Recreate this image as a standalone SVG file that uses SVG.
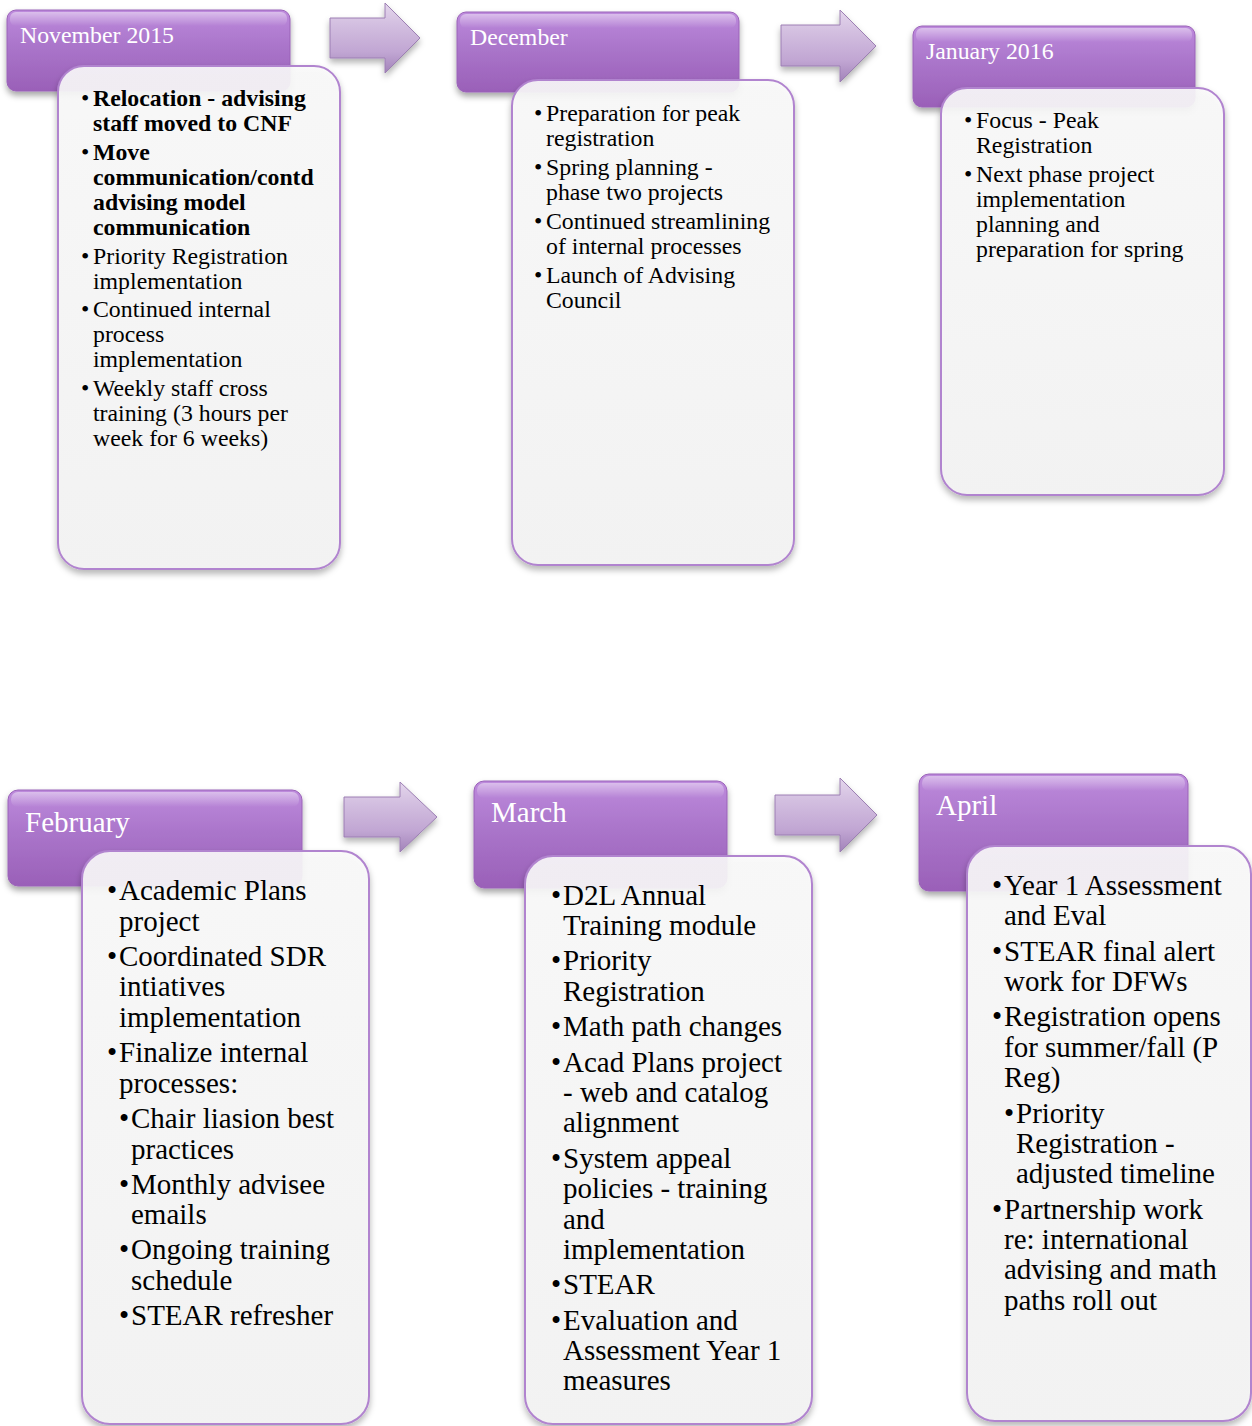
<svg xmlns="http://www.w3.org/2000/svg" width="1252" height="1426" viewBox="0 0 1252 1426">
<defs>
<linearGradient id="hg" x1="0" y1="0" x2="0" y2="1">
<stop offset="0" stop-color="#bd8adc"/>
<stop offset="0.45" stop-color="#aa75ca"/>
<stop offset="1" stop-color="#9a60b8"/>
</linearGradient>
<linearGradient id="hl" x1="0" y1="0" x2="0" y2="1">
<stop offset="0" stop-color="#ffffff" stop-opacity="0.45"/>
<stop offset="1" stop-color="#ffffff" stop-opacity="0"/>
</linearGradient>
<linearGradient id="bg" x1="0" y1="0" x2="0" y2="1">
<stop offset="0" stop-color="#fafafa"/>
<stop offset="1" stop-color="#f4f4f4"/>
</linearGradient>
<linearGradient id="ag" x1="0" y1="0" x2="0" y2="1">
<stop offset="0" stop-color="#e4d6ec"/>
<stop offset="0.3" stop-color="#d3bfe0"/>
<stop offset="0.7" stop-color="#c1a6d3"/>
<stop offset="1" stop-color="#a283b9"/>
</linearGradient>
<filter id="sh" x="-10%" y="-10%" width="120%" height="125%">
<feDropShadow dx="0" dy="4" stdDeviation="3" flood-color="#000" flood-opacity="0.35"/>
</filter>
<filter id="sh2" x="-10%" y="-10%" width="120%" height="125%">
<feDropShadow dx="0" dy="4" stdDeviation="3" flood-color="#000" flood-opacity="0.3"/>
</filter>
</defs>
<style>
.hd{fill:url(#hg);stroke:#9a62b8;stroke-width:1;filter:url(#sh)}
.hlt{fill:url(#hl)}
.bx{fill:url(#bg);fill-opacity:0.9;stroke:#b184cf;stroke-width:2;filter:url(#sh2)}
.ar{fill:url(#ag);stroke:#9c7fb3;stroke-width:1;filter:url(#sh2)}
.ht{font-family:'Liberation Serif','Times New Roman',serif;fill:#ffffff}
.t1{font-family:'Liberation Serif','Times New Roman',serif;font-size:23.8px;fill:#000}
.t2{font-family:'Liberation Serif','Times New Roman',serif;font-size:29px;fill:#000}
.b{font-weight:bold}
</style>

<g id="connectors">
<path class="ar" d="M330,18 H385 V3 L420,38 L385,73 V58 H330 Z"/>
<path class="ar" d="M781,25 H840 V10 L876,46 L840,82 V66 H781 Z"/>
<path class="ar" d="M344,797 H400 V782 L437,817 L400,852 V837 H344 Z"/>
<path class="ar" d="M775,795 H840 V778 L877,815 L840,852 V835 H775 Z"/>
</g>

<g id="nov">
<rect class="hd" x="7" y="10" width="283" height="81" rx="9"/>
<rect class="hlt" x="10" y="12" width="277" height="14" rx="6"/>
<text class="ht" x="20" y="43" font-size="23.8">November 2015</text>
<rect class="bx" x="58" y="66" width="282" height="503" rx="26"/>
<text class="t1">
<tspan x="81" y="106">•</tspan><tspan x="93" y="106" class="b">Relocation - advising</tspan>
<tspan x="93" y="131" class="b">staff moved to CNF</tspan>
<tspan x="81" y="160">•</tspan><tspan x="93" y="160" class="b">Move</tspan>
<tspan x="93" y="185" class="b">communication/contd</tspan>
<tspan x="93" y="210" class="b">advising model</tspan>
<tspan x="93" y="235" class="b">communication</tspan>
<tspan x="81" y="264">•</tspan><tspan x="93" y="264">Priority Registration</tspan>
<tspan x="93" y="289">implementation</tspan>
<tspan x="81" y="317">•</tspan><tspan x="93" y="317">Continued internal</tspan>
<tspan x="93" y="342">process</tspan>
<tspan x="93" y="367">implementation</tspan>
<tspan x="81" y="396">•</tspan><tspan x="93" y="396">Weekly staff cross</tspan>
<tspan x="93" y="421">training (3 hours per</tspan>
<tspan x="93" y="446">week for 6 weeks)</tspan>
</text>
</g>

<g id="dec">
<rect class="hd" x="457" y="12" width="282" height="80" rx="9"/>
<rect class="hlt" x="460" y="14" width="276" height="14" rx="6"/>
<text class="ht" x="470" y="45" font-size="23.8">December</text>
<rect class="bx" x="512" y="80" width="282" height="485" rx="26"/>
<text class="t1">
<tspan x="534" y="121">•</tspan><tspan x="546" y="121">Preparation for peak</tspan>
<tspan x="546" y="146">registration</tspan>
<tspan x="534" y="175">•</tspan><tspan x="546" y="175">Spring planning -</tspan>
<tspan x="546" y="200">phase two projects</tspan>
<tspan x="534" y="229">•</tspan><tspan x="546" y="229">Continued streamlining</tspan>
<tspan x="546" y="254">of internal processes</tspan>
<tspan x="534" y="283">•</tspan><tspan x="546" y="283">Launch of Advising</tspan>
<tspan x="546" y="308">Council</tspan>
</text>
</g>

<g id="jan">
<rect class="hd" x="913" y="26" width="282" height="81" rx="9"/>
<rect class="hlt" x="916" y="28" width="276" height="14" rx="6"/>
<text class="ht" x="926" y="59" font-size="23.8">January 2016</text>
<rect class="bx" x="941" y="88" width="283" height="407" rx="26"/>
<text class="t1">
<tspan x="964" y="128">•</tspan><tspan x="976" y="128">Focus - Peak</tspan>
<tspan x="976" y="153">Registration</tspan>
<tspan x="964" y="182">•</tspan><tspan x="976" y="182">Next phase project</tspan>
<tspan x="976" y="207">implementation</tspan>
<tspan x="976" y="232">planning and</tspan>
<tspan x="976" y="257">preparation for spring</tspan>
</text>
</g>

<g id="feb">
<rect class="hd" x="8" y="790" width="294" height="96" rx="10"/>
<rect class="hlt" x="11" y="792" width="288" height="15" rx="7"/>
<text class="ht" x="25" y="832" font-size="29">February</text>
<rect class="bx" x="82" y="851" width="287" height="573" rx="28"/>
<text class="t2">
<tspan x="107" y="900">•</tspan><tspan x="119" y="900">Academic Plans</tspan>
<tspan x="119" y="931">project</tspan>
<tspan x="107" y="966">•</tspan><tspan x="119" y="966">Coordinated SDR</tspan>
<tspan x="119" y="996">intiatives</tspan>
<tspan x="119" y="1027">implementation</tspan>
<tspan x="107" y="1062">•</tspan><tspan x="119" y="1062">Finalize internal</tspan>
<tspan x="119" y="1093">processes:</tspan>
<tspan x="119" y="1128">•</tspan><tspan x="131" y="1128">Chair liasion best</tspan>
<tspan x="131" y="1159">practices</tspan>
<tspan x="119" y="1194">•</tspan><tspan x="131" y="1194">Monthly advisee</tspan>
<tspan x="131" y="1224">emails</tspan>
<tspan x="119" y="1259">•</tspan><tspan x="131" y="1259">Ongoing training</tspan>
<tspan x="131" y="1290">schedule</tspan>
<tspan x="119" y="1325">•</tspan><tspan x="131" y="1325">STEAR refresher</tspan>
</text>
</g>

<g id="mar">
<rect class="hd" x="474" y="781" width="253" height="107" rx="10"/>
<rect class="hlt" x="477" y="783" width="247" height="15" rx="7"/>
<text class="ht" x="491" y="822" font-size="29">March</text>
<rect class="bx" x="525" y="856" width="287" height="568" rx="28"/>
<text class="t2">
<tspan x="551" y="905">•</tspan><tspan x="563" y="905">D2L Annual</tspan>
<tspan x="563" y="935">Training module</tspan>
<tspan x="551" y="970">•</tspan><tspan x="563" y="970">Priority</tspan>
<tspan x="563" y="1001">Registration</tspan>
<tspan x="551" y="1036">•</tspan><tspan x="563" y="1036">Math path changes</tspan>
<tspan x="551" y="1072">•</tspan><tspan x="563" y="1072">Acad Plans project</tspan>
<tspan x="563" y="1102">- web and catalog</tspan>
<tspan x="563" y="1132">alignment</tspan>
<tspan x="551" y="1168">•</tspan><tspan x="563" y="1168">System appeal</tspan>
<tspan x="563" y="1198">policies - training</tspan>
<tspan x="563" y="1229">and</tspan>
<tspan x="563" y="1259">implementation</tspan>
<tspan x="551" y="1294">•</tspan><tspan x="563" y="1294">STEAR</tspan>
<tspan x="551" y="1330">•</tspan><tspan x="563" y="1330">Evaluation and</tspan>
<tspan x="563" y="1360">Assessment Year 1</tspan>
<tspan x="563" y="1390">measures</tspan>
</text>
</g>

<g id="apr">
<rect class="hd" x="919" y="774" width="269" height="117" rx="10"/>
<rect class="hlt" x="922" y="776" width="263" height="15" rx="7"/>
<text class="ht" x="936" y="815" font-size="29">April</text>
<rect class="bx" x="967" y="846" width="284" height="575" rx="28"/>
<text class="t2">
<tspan x="992" y="895">•</tspan><tspan x="1004" y="895">Year 1 Assessment</tspan>
<tspan x="1004" y="925">and Eval</tspan>
<tspan x="992" y="961">•</tspan><tspan x="1004" y="961">STEAR final alert</tspan>
<tspan x="1004" y="991">work for DFWs</tspan>
<tspan x="992" y="1026">•</tspan><tspan x="1004" y="1026">Registration opens</tspan>
<tspan x="1004" y="1057">for summer/fall (P</tspan>
<tspan x="1004" y="1087">Reg)</tspan>
<tspan x="1004" y="1123">•</tspan><tspan x="1016" y="1123">Priority</tspan>
<tspan x="1016" y="1153">Registration -</tspan>
<tspan x="1016" y="1183">adjusted timeline</tspan>
<tspan x="992" y="1219">•</tspan><tspan x="1004" y="1219">Partnership work</tspan>
<tspan x="1004" y="1249">re: international</tspan>
<tspan x="1004" y="1279">advising and math</tspan>
<tspan x="1004" y="1310">paths roll out</tspan>
</text>
</g>
</svg>
